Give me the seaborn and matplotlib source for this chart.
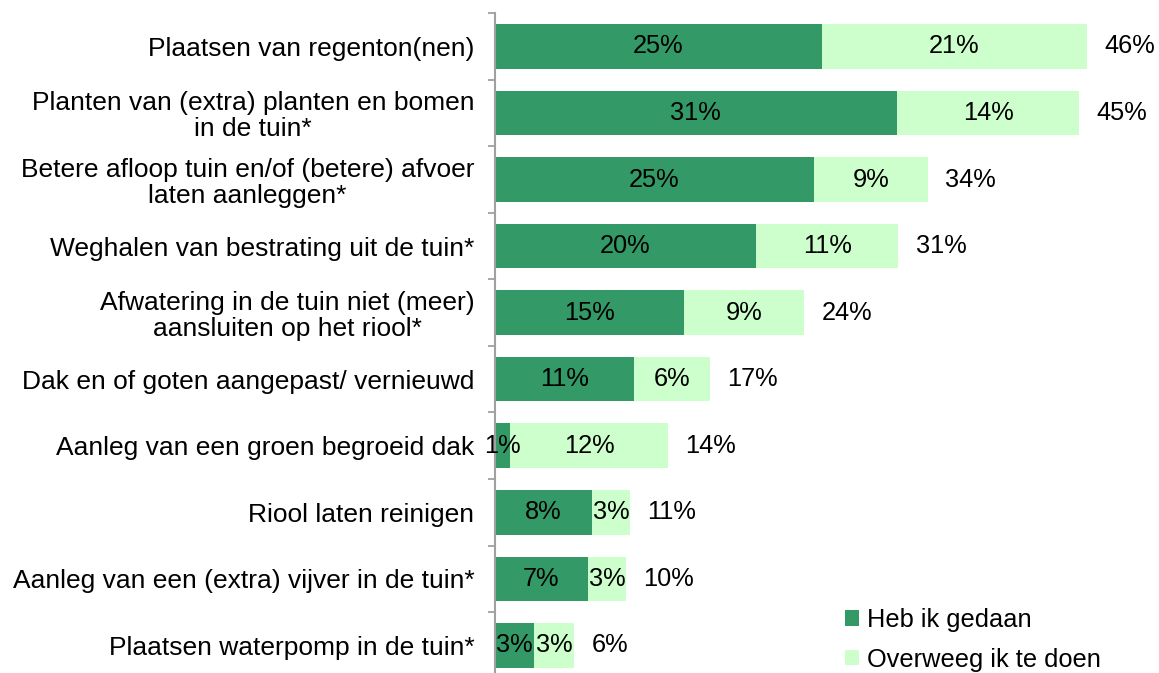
import pandas as pd
import seaborn as sns
import matplotlib.pyplot as plt
from matplotlib.patches import Patch

categories = ['Plaatsen van regenton(nen)',
              'Planten van (extra) planten en bomen\nin de tuin*',
              'Betere afloop tuin en/of (betere) afvoer\nlaten aanleggen*',
              'Weghalen van bestrating uit de tuin*',
              'Afwatering in de tuin niet (meer)\naansluiten op het riool*',
              'Dak en of goten aangepast/ vernieuwd',
              'Aanleg van een groen begroeid dak',
              'Riool laten reinigen',
              'Aanleg van een (extra) vijver in de tuin*',
              'Plaatsen waterpomp in de tuin*']
gedaan = [25.4, 31.2, 24.8, 20.3, 14.65, 10.8, 1.2, 7.55, 7.25, 3.06]
overweeg = [20.5, 14.1, 8.8, 11.0, 9.35, 5.9, 12.25, 2.95, 2.95, 3.1]
gedaan_labels = ['25%', '31%', '25%', '20%', '15%', '11%', '1%', '8%', '7%', '3%']
overweeg_labels = ['21%', '14%', '9%', '11%', '9%', '6%', '12%', '3%', '3%', '3%']
totaal_labels = ['46%', '45%', '34%', '31%', '24%', '17%', '14%', '11%', '10%', '6%']

dark = '#339966'
light = '#CCFFCC'

df = pd.DataFrame({'Categorie': categories, 'Gedaan': gedaan, 'Overweeg': overweeg})
df['Totaal'] = df['Gedaan'] + df['Overweeg']

plt.rcParams['font.family'] = ['Liberation Sans', 'DejaVu Sans']
fs = 18.3
fs_cat = 19

fig = plt.figure(figsize = (11.59, 6.73), dpi = 100)
ax = fig.add_axes([494.5 / 1159, -0.0085, 1 - 494.5 / 1159, 0.989])

sns.barplot(data = df, y = 'Categorie', x = 'Totaal', color = light, orient = 'h',
            width = 0.67, saturation = 1, ax = ax)
sns.barplot(data = df, y = 'Categorie', x = 'Gedaan', color = dark, orient = 'h',
            width = 0.67, saturation = 1, ax = ax)

for i in range(len(categories)):
    ax.text(gedaan[i] / 2, i, gedaan_labels[i], ha = 'center', va = 'center', fontsize = fs)
    ax.text(gedaan[i] + overweeg[i] / 2, i, overweeg_labels[i], ha = 'center', va = 'center', fontsize = fs)
    ax.annotate(totaal_labels[i], (gedaan[i] + overweeg[i], i), xytext = (12.5, 0),
                textcoords = 'offset points', ha = 'left', va = 'center', fontsize = fs)

ax.set_xlim(0, 51.5)
ax.set_ylim(len(categories) - 0.5, -0.5)
ax.set_xlabel('')
ax.set_ylabel('')
ax.set_xticks([])
ax.set_yticks(range(len(categories)))
ax.set_yticklabels(categories, fontsize = fs_cat)
for lbl in ax.get_yticklabels():
    lbl.set_multialignment('center')
    lbl.set_linespacing(1.1)
ax.set_yticks([i - 0.5 for i in range(len(categories) + 1)], minor = True)
ax.tick_params(axis = 'y', which = 'major', length = 0, pad = 14.5)
ax.tick_params(axis = 'y', which = 'minor', length = 5, width = 1.3, color = '#a0a0a0')
for s in ['top', 'right', 'bottom']:
    ax.spines[s].set_visible(False)
ax.spines['left'].set_color('#a0a0a0')
ax.spines['left'].set_linewidth(1.5)
ax.set_facecolor('none')

handles = [Patch(facecolor = dark, edgecolor = 'none', label = 'Heb ik gedaan'),
           Patch(facecolor = light, edgecolor = 'none', label = 'Overweeg ik te doen')]
fig.legend(handles = handles, loc = 'upper left', bbox_to_anchor = (845 / 1159, 1 - 608 / 673),
           bbox_transform = fig.transFigure, frameon = False, fontsize = fs,
           handlelength = 0.55, handleheight = 0.55, handletextpad = 0.3,
           labelspacing = 0.62, borderpad = 0, borderaxespad = 0)

plt.savefig('out.png', dpi = 100)
